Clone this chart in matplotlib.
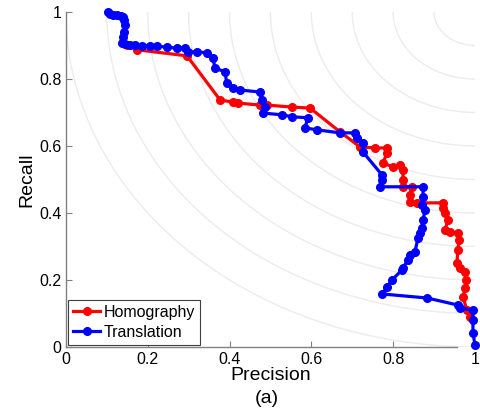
import numpy as np
import matplotlib
matplotlib.use("Agg")
import matplotlib.pyplot as plt

# Translation (blue) precision / recall
trans_p = [0.103, 0.107, 0.115, 0.125, 0.135, 0.139, 0.142, 0.144, 0.142, 0.140, 0.137,
           0.145, 0.156, 0.170, 0.185, 0.205, 0.222, 0.247, 0.271, 0.291, 0.298, 0.320,
           0.345, 0.360, 0.364, 0.389, 0.393, 0.408, 0.425, 0.474, 0.479, 0.487, 0.482,
           0.528, 0.553, 0.592, 0.584, 0.614, 0.670, 0.707, 0.711, 0.726, 0.726, 0.773,
           0.773, 0.768, 0.873, 0.873, 0.870, 0.878, 0.873, 0.870, 0.866, 0.861, 0.853,
           0.841, 0.836, 0.824, 0.822, 0.797, 0.785, 0.773, 0.883, 0.958, 0.963, 0.995,
           0.995, 0.995, 1.000]
trans_r = [1.000, 0.993, 0.990, 0.990, 0.988, 0.985, 0.975, 0.960, 0.940, 0.925, 0.907,
           0.903, 0.901, 0.900, 0.899, 0.899, 0.898, 0.895, 0.892, 0.892, 0.881, 0.881,
           0.878, 0.862, 0.833, 0.821, 0.788, 0.773, 0.767, 0.761, 0.737, 0.716, 0.698,
           0.693, 0.687, 0.684, 0.654, 0.648, 0.639, 0.639, 0.624, 0.609, 0.582, 0.513,
           0.499, 0.478, 0.478, 0.448, 0.424, 0.409, 0.379, 0.355, 0.340, 0.325, 0.284,
           0.275, 0.260, 0.236, 0.230, 0.200, 0.179, 0.158, 0.146, 0.125, 0.116, 0.110,
           0.081, 0.042, 0.006]

# Homography (red) precision / recall
homo_p = [0.150, 0.174, 0.296, 0.377, 0.408, 0.420, 0.474, 0.491, 0.553, 0.597, 0.670,
          0.719, 0.756, 0.785, 0.785, 0.775, 0.800, 0.817, 0.824, 0.824, 0.824, 0.846,
          0.841, 0.841, 0.858, 0.922, 0.922, 0.927, 0.934, 0.927, 0.939, 0.958, 0.961,
          0.958, 0.956, 0.963, 0.976, 0.978, 0.976, 0.971, 0.980, 0.988]
homo_r = [0.900, 0.887, 0.869, 0.737, 0.731, 0.728, 0.722, 0.722, 0.716, 0.713, 0.642,
          0.597, 0.594, 0.594, 0.579, 0.549, 0.537, 0.543, 0.528, 0.499, 0.478, 0.478,
          0.454, 0.433, 0.430, 0.430, 0.415, 0.400, 0.379, 0.349, 0.343, 0.340, 0.319,
          0.290, 0.251, 0.236, 0.224, 0.200, 0.176, 0.149, 0.110, 0.090]

radii = [0.1, 0.2, 0.3, 0.4, 0.5, 0.6, 0.7, 0.8, 0.9, 1.0]

plt.rcParams['font.family'] = ['Liberation Sans', 'DejaVu Sans']

fig = plt.figure(figsize=(4.81, 4.12), dpi=100)
ax = fig.add_axes([0.137, 0.158, 0.8505, 0.813])

t = np.linspace(np.pi, 1.5 * np.pi, 300)
for r in radii:
    ax.plot(1 + r * np.cos(t), 1 + r * np.sin(t), color='#ececec', lw=1.0, zorder=1)

ax.plot(homo_p, homo_r, color='#ff0000', lw=2.3, marker='o', ms=5.5,
        label='Homography', clip_on=False, zorder=3)
ax.plot(trans_p, trans_r, color='#0000ff', lw=2.3, marker='o', ms=5.5,
        label='Translation', clip_on=False, zorder=4)

ax.set_xlim(0, 1)
ax.set_ylim(0, 1)
ax.set_xticks([0, 0.2, 0.4, 0.6, 0.8, 1])
ax.set_yticks([0, 0.2, 0.4, 0.6, 0.8, 1])
ax.set_xticklabels(['0', '0.2', '0.4', '0.6', '0.8', '1'])
ax.set_yticklabels(['0', '0.2', '0.4', '0.6', '0.8', '1'])
ax.tick_params(direction='in', length=4, color='#808080', labelsize=11.5, pad=3)
ax.tick_params(axis='x', pad=4)
for s in ['top', 'right']:
    ax.spines[s].set_visible(False)
for s in ['left', 'bottom']:
    ax.spines[s].set_color('#808080')
    ax.spines[s].set_linewidth(1.0)
ax.spines['bottom'].set_bounds(0, 0.955)

ax.set_xlabel('Precision', fontsize=14, labelpad=0)
ax.set_ylabel('Recall', fontsize=14, labelpad=3)
fig.text(0.555, 0.032, '(a)', fontsize=14, ha='center', va='center')

leg = ax.legend(loc='lower left', bbox_to_anchor=(0, 0), borderaxespad=0.15,
                fontsize=11.5, fancybox=False, framealpha=1, edgecolor='#404040',
                handlelength=1.7, handletextpad=0.2, borderpad=0.3, labelspacing=0.3)
leg.get_frame().set_linewidth(0.8)

fig.savefig('out.png', dpi=100)
